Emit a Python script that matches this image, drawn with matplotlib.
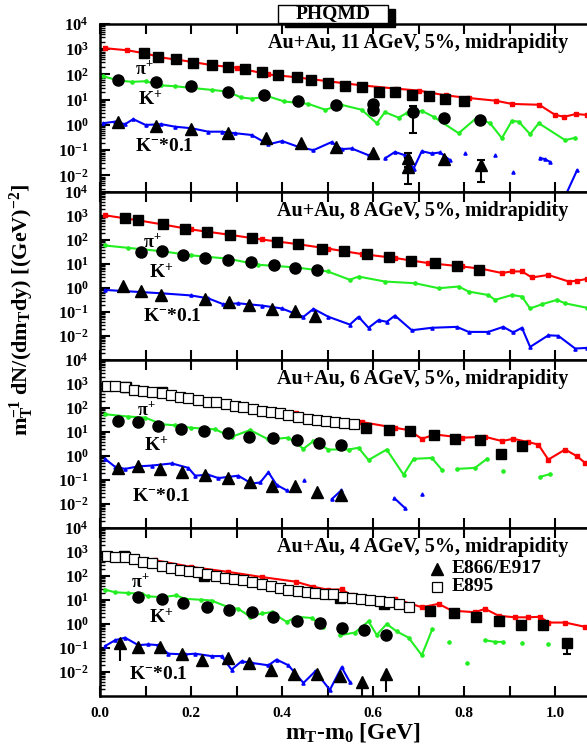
import numpy as np
import matplotlib
matplotlib.use('Agg')
from matplotlib import pyplot as plt
from matplotlib.patches import Rectangle
from matplotlib.ticker import LogLocator, NullFormatter

plt.rcParams['font.family'] = 'Liberation Serif'
plt.rcParams['font.weight'] = 'bold'
plt.rcParams['mathtext.fontset'] = 'custom'
plt.rcParams['mathtext.rm'] = 'Liberation Serif:bold'
plt.rcParams['mathtext.it'] = 'Liberation Serif:bold'
plt.rcParams['mathtext.bf'] = 'Liberation Serif:bold'
plt.rcParams['mathtext.default'] = 'rm'

nan = np.nan

# ---------------- 11 AGeV ----------------
pi_mod_x_11 = [0.01, 0.06, 0.10, 0.135, 0.20, 0.245, 0.30, 0.37, 0.43, 0.50, 0.575, 0.65, 0.70, 0.76, 0.81, 0.87, 0.905, 0.965, 1.0, 1.02, 1.045, 1.07]
pi_mod_y_11 = [1100, 910, 680, 470, 320, 235, 186, 100, 78, 54, 37, 27.5, 23, 14.8, 11.7, 9.1, 6.8, 6.3, 2.5, 2.1, 2.7, 2.5]
kp_mod_x_11 = [0.007, 0.04, 0.07, 0.10, 0.135, 0.165, 0.20, 0.245, 0.28, 0.31, 0.333, 0.37, 0.405, 0.458, 0.495, 0.53, 0.575, 0.608, 0.626, 0.656, 0.674, 0.707, 0.733, 0.788, 0.828, 0.857, 0.883, 0.905, 0.92, 0.945, 0.964, 1.022, 1.044]
kp_mod_y_11 = [85, 58, 51, 54, 37, 34, 29.5, 24.5, 21, 12.3, 11, 13.5, 8.5, 6.8, 4.0, 6.3, 4.0, 1.17, 3.2, 1.95, 2.95, 3.6, 2.1, 0.47, 1.95, 1.17, 0.30, 1.45, 1.35, 0.43, 1.17, 0.25, 0.31]
km_mod_x_11 = [0.007, 0.033, 0.055, 0.073, 0.10, 0.135, 0.165, 0.201, 0.238, 0.267, 0.297, 0.333, 0.37, 0.40, 0.436, 0.469, 0.509, 0.531, 0.553, 0.590, nan, 0.626, 0.648, 0.670, 0.689, 0.707, 0.729, 0.747, 0.769, nan, 0.802, nan, 0.868, nan, 0.908, nan, 0.967, 0.978, 0.989, nan, 1.022, 1.048]
km_mod_y_11 = [1.17, 1.35, 1.07, 1.7, 1.0, 1.07, 0.85, 0.74, 0.54, 0.54, 0.47, 0.40, 0.17, 0.23, 0.135, 0.10, 0.21, 0.11, 0.117, 0.063, nan, 0.047, 0.085, 0.063, 0.0186, 0.091, 0.074, 0.081, 0.040, nan, 0.074, nan, 0.063, nan, 0.0135, nan, 0.049, 0.044, 0.034, nan, 0.0015, 0.0158]

pi_dat_x_11 = [0.097, 0.128, 0.168, 0.205, 0.245, 0.282, 0.319, 0.355, 0.392, 0.432, 0.464, 0.502, 0.538, 0.575, 0.612, 0.648, 0.685, 0.722, 0.758, 0.799]
pi_dat_y_11 = [680, 490, 400, 295, 235, 195, 158, 123, 93, 78, 58, 47, 34, 31, 21, 21, 16, 13.5, 11, 9.1]
kp_dat_x_11 = [0.040, 0.122, 0.201, 0.281, 0.361, 0.436, 0.518, 0.599, 0.599, 0.687, 0.755, 0.835]
kp_dat_y_11 = [58, 51, 34, 21, 15, 9.1, 6.3, 6.6, 3.8, 3.2, 1.95, 1.55]
km_dat_x_11 = [0.039, 0.122, 0.201, 0.281, 0.364, 0.442, 0.518, 0.599, 0.677, 0.677, 0.755, 0.837]
km_dat_y_11 = [1.3, 0.93, 0.67, 0.47, 0.30, 0.19, 0.135, 0.078, 0.049, 0.021, 0.044, 0.027]

# error bars (x, y, lower, upper)
err_x_11 = [0.687, 0.677, 0.677, 0.837]
err_y_11 = [3.2, 0.049, 0.021, 0.027]
err_lo_11 = [2.7, 0.0, 0.0163, 0.0216]
err_hi_11 = [2.2, 0.025, 0.0, 0.013]

# ---------------- 8 AGeV ----------------
pi_mod_x_8 = [0.011, 0.084, 0.136, 0.20, 0.28, 0.355, 0.43, 0.50, 0.575, 0.648, 0.72, 0.795, 0.839, 0.883, 0.905, 0.927, 0.949, 0.985, 1.03, 1.048, 1.07]
pi_mod_y_8 = [1070, 660, 450, 275, 170, 105, 69, 44, 26, 17.8, 11, 7.9, 6.3, 4.2, 4.9, 4.9, 2.75, 3.5, 1.86, 2.0, 2.4]
kp_mod_x_8 = [0.011, 0.062, 0.136, 0.20, 0.282, 0.348, 0.43, 0.50, 0.549, 0.568, 0.626, 0.692, 0.744, 0.788, 0.81, 0.853, 0.868, 0.905, 0.927, 0.945, 0.971, 1.004, 1.022, 1.07]
kp_mod_y_8 = [59, 47, 34, 23, 16.6, 9.3, 7.2, 4.9, 2.2, 3.0, 1.86, 1.58, 0.98, 1.15, 0.71, 0.51, 0.32, 0.51, 0.44, 0.14, 0.21, 0.32, 0.23, 0.15]
km_mod_x_8 = [0.011, 0.136, 0.20, 0.238, 0.271, 0.304, 0.355, 0.399, 0.447, 0.469, 0.502, 0.549, 0.568, 0.590, 0.612, 0.630, 0.648, 0.685, 0.729, 0.784, 0.81, 0.853, 0.886, 0.908, 0.927, 0.945, 0.985, 1.007, 1.044, 1.07]
km_mod_y_8 = [0.83, 0.60, 0.49, 0.37, 0.21, 0.23, 0.186, 0.141, 0.063, 0.135, 0.063, 0.030, 0.063, 0.022, 0.046, 0.039, 0.071, 0.0174, 0.022, 0.024, 0.0148, 0.0148, 0.024, 0.0141, 0.022, 0.0035, 0.0107, 0.0102, 0.0030, 0.0032]

pi_dat_x_8 = [0.055, 0.084, 0.139, 0.187, 0.234, 0.286, 0.333, 0.388, 0.436, 0.487, 0.535, 0.586, 0.634, 0.684, 0.735, 0.784, 0.832]
pi_dat_y_8 = [850, 660, 450, 300, 220, 158, 123, 83, 65, 44, 34, 26, 19, 12.9, 11, 7.9, 5.8]
kp_dat_x_8 = [0.090, 0.136, 0.183, 0.231, 0.282, 0.332, 0.383, 0.429, 0.476]
kp_dat_y_8 = [31, 34, 24.5, 17.8, 15, 11.7, 9.3, 6.8, 5.8]
km_dat_x_8 = [0.051, 0.090, 0.134, 0.231, 0.284, 0.328, 0.379, 0.429, 0.473]
km_dat_y_8 = [1.26, 0.76, 0.51, 0.35, 0.27, 0.19, 0.135, 0.11, 0.068]

# ---------------- 6 AGeV ----------------
pi_mod_x_6 = [0.011, 0.062, 0.136, 0.20, 0.282, 0.355, 0.43, 0.50, 0.575, 0.648, 0.678, 0.707, 0.736, 0.795, 0.846, 0.883, 0.908, 0.941, 0.963, 0.985, 1.022, 1.048, 1.066]
pi_mod_y_6 = [1000, 800, 450, 275, 158, 95, 60, 36, 26, 15, 12, 5.2, 7.9, 5.8, 6.3, 4.2, 5.2, 3.8, 3.0, 0.71, 1.86, 0.98, 0.51]
kp_mod_x_6 = [0.011, 0.062, 0.099, 0.136, 0.165, 0.20, 0.253, 0.289, 0.33, 0.37, 0.414, 0.447, 0.469, 0.502, 0.546, 0.568, 0.59, 0.63, 0.667, 0.689, 0.729, 0.751, nan, 0.784, 0.824, 0.85, nan, 0.886, nan, 0.967, 0.989]
kp_mod_y_6 = [55, 44, 40, 21, 19, 15, 12.9, 6.3, 12, 4.9, 5.8, 2.0, 4.2, 1.86, 1.86, 2.2, 0.68, 1.86, 0.166, 0.76, 0.83, 0.27, nan, 0.29, 0.32, 0.76, nan, 0.23, nan, 0.135, 0.178]
km_mod_x_6 = [0.011, 0.033, 0.055, 0.084, 0.114, 0.158, 0.194, 0.209, 0.238, 0.26, 0.282, 0.304, 0.333, 0.352, 0.37, 0.388, 0.41, nan, 0.449, nan, 0.509, 0.53, nan, 0.647, 0.670, nan, 0.707]
km_mod_y_6 = [0.76, 0.355, 0.29, 0.37, 0.40, 0.49, 0.32, 0.151, 0.166, 0.12, 0.135, 0.151, 0.071, 0.079, 0.21, 0.063, 0.037, nan, 0.102, nan, 0.0158, 0.037, nan, 0.0174, 0.0068, nan, 0.027]

pi_open_x_6 = [0.015, 0.034, 0.055, 0.075, 0.095, 0.115, 0.136, 0.156, 0.176, 0.194, 0.215, 0.237, 0.254, 0.276, 0.297, 0.315, 0.337, 0.355, 0.376, 0.396, 0.414, 0.436, 0.456, 0.476, 0.496, 0.516, 0.537, 0.557]
pi_open_y_6 = [850, 790, 720, 575, 490, 450, 415, 345, 300, 250, 220, 182, 170, 145, 123, 105, 89, 76, 69, 60, 50, 44, 36, 32, 29, 26, 23, 21]
pi_dat_x_6 = [0.057, 0.136, 0.584, 0.634, 0.681, 0.733, 0.779, 0.835, 0.881, 0.928]
pi_dat_y_6 = [720, 445, 15, 12, 11, 7.2, 4.9, 4.6, 1.26, 2.6]
kp_dat_x_6 = [0.040, 0.084, 0.128, 0.179, 0.229, 0.282, 0.328, 0.381, 0.432, 0.481, 0.530]
kp_dat_y_6 = [29, 26, 17.8, 13.8, 11, 8.7, 6.3, 5.8, 4.6, 3.5, 2.75]
km_dat_x_6 = [0.039, 0.083, 0.132, 0.181, 0.231, 0.281, 0.330, 0.377, 0.429, 0.476, 0.530]
km_dat_y_6 = [0.32, 0.37, 0.29, 0.21, 0.166, 0.12, 0.079, 0.057, 0.057, 0.033, 0.024]

# ---------------- 4 AGeV ----------------
pi_mod_x_4 = [0.011, 0.062, 0.121, 0.20, 0.282, 0.355, 0.43, 0.468, 0.50, 0.531, 0.553, 0.619, 0.648, 0.707, 0.744, 0.773, 0.824, 0.846, 0.876, 0.912, 0.941, 0.967, 0.985, 1.022, 1.066]
pi_mod_y_4 = [630, 540, 455, 240, 148, 91, 58, 36, 27, 27.5, 15.5, 11.2, 11.2, 5.0, 6.9, 3.6, 3.1, 4.3, 2.2, 1.9, 1.9, 2.0, 1.15, 1.15, 0.76]
kp_mod_x_4 = [0.011, 0.033, 0.062, 0.092, 0.106, 0.136, 0.168, 0.187, 0.223, 0.245, 0.282, 0.304, 0.33, 0.355, 0.377, 0.41, 0.432, 0.465, 0.491, nan, 0.527, 0.56, 0.59, 0.608, 0.63, 0.652, 0.678, 0.707, 0.73, nan, 0.766, nan, 0.806, nan, 0.846, 0.868, 0.886, nan, 0.927, nan, 0.985]
kp_mod_y_4 = [27, 21, 19.5, 18.2, 14.1, 13.2, 15.5, 11.2, 10.2, 9.5, 5.0, 4.3, 2.0, 2.75, 3.1, 1.23, 2.0, 1.78, 0.76, nan, 0.34, 0.44, 1.29, 0.35, 1.0, 0.49, 0.27, 0.050, 0.60, nan, 0.18, nan, 0.024, nan, 0.21, 0.18, 0.178, nan, 0.166, nan, 0.141]
km_mod_x_4 = [0.011, 0.033, 0.055, 0.084, 0.106, 0.128, 0.150, 0.187, 0.209, 0.245, 0.267, 0.289, 0.311, 0.333, 0.37, 0.388, 0.414, 0.447, 0.473, 0.505, 0.531, 0.549]
km_mod_y_4 = [0.12, 0.21, 0.27, 0.132, 0.141, 0.132, 0.058, 0.054, 0.058, 0.046, 0.046, 0.0126, 0.028, 0.024, 0.019, 0.033, 0.019, 0.0035, 0.0107, 0.0018, 0.0158, 0.0038]

pi_open_x_4 = [0.015, 0.034, 0.055, 0.075, 0.095, 0.115, 0.136, 0.156, 0.176, 0.196, 0.215, 0.234, 0.254, 0.275, 0.295, 0.315, 0.335, 0.355, 0.376, 0.396, 0.414, 0.434, 0.454, 0.473, 0.495, 0.513, 0.533, 0.553, 0.573, 0.593, 0.615, 0.634, 0.656, 0.678]
pi_open_y_4 = [680, 630, 600, 490, 390, 355, 257, 224, 174, 162, 148, 117, 98, 85, 78, 71, 56, 45, 37, 32, 27, 23, 21, 19.5, 18.2, 17, 13.2, 12.3, 11.2, 10.2, 8.9, 8.1, 6.5, 5.2]
pi_dat_x_4 = [0.052, 0.228, 0.528, 0.623, 0.725, 0.777, 0.826, 0.877, 0.925, 0.974, 1.026]
pi_dat_y_4 = [690, 100, 12.6, 7.1, 3.6, 2.75, 2.0, 1.35, 0.93, 0.93, 0.166]
kp_dat_x_4 = [0.083, 0.136, 0.183, 0.234, 0.284, 0.333, 0.381, 0.432, 0.484, 0.531, 0.579, 0.628]
kp_dat_y_4 = [13.2, 11.2, 7.4, 5.0, 3.8, 3.1, 1.9, 1.35, 1.15, 0.71, 0.55, 0.35]
km_dat_x_4 = [0.044, 0.084, 0.132, 0.181, 0.225, 0.281, 0.328, 0.376, 0.427, 0.476, 0.527, 0.575, 0.628]
km_dat_y_4 = [0.166, 0.11, 0.11, 0.058, 0.033, 0.039, 0.024, 0.0126, 0.0083, 0.0083, 0.0066, 0.0038, 0.0083]

err_x_4 = [1.026, 0.044, 0.575, 0.628]
err_y_4 = [0.166, 0.166, 0.0038, 0.0083]
err_lo_4 = [0.112, 0.136, 0.0029, 0.0068]
err_hi_4 = [0.064, 0.0, 0.0, 0.0]
err_cap_4 = [3, 0, 0, 0]

titles = ['Au+Au, 11 AGeV, 5%, midrapidity', 'Au+Au, 8 AGeV, 5%, midrapidity',
          'Au+Au, 6 AGeV, 5%, midrapidity', 'Au+Au, 4 AGeV, 5%, midrapidity']

yticks = [1e-2, 1e-1, 1e0, 1e1, 1e2, 1e3, 1e4]
ytick_labels = ['10$^{-2}$', '10$^{-1}$', '10$^{0}$', '10$^{1}$', '10$^{2}$', '10$^{3}$', '10$^{4}$']
xticks = [0.0, 0.1, 0.2, 0.3, 0.4, 0.5, 0.6, 0.7, 0.8, 0.9, 1.0]
xtick_labels = ['0.0', '', '0.2', '', '0.4', '', '0.6', '', '0.8', '', '1.0']

RED = '#ff0000'
GREEN = '#22ee22'
BLUE = '#0000ff'

panels = [
    dict(title=titles[0], ymin=2.2e-3,
         mod=[(pi_mod_x_11, pi_mod_y_11), (kp_mod_x_11, kp_mod_y_11), (km_mod_x_11, km_mod_y_11)],
         sq=(pi_dat_x_11, pi_dat_y_11), op=None,
         ci=(kp_dat_x_11, kp_dat_y_11), tr=(km_dat_x_11, km_dat_y_11),
         err=(err_x_11, err_y_11, err_lo_11, err_hi_11, [3, 3, 3, 3]),
         lab=[(0.072, 0.73), (0.078, 0.55), (0.072, 0.27)]),
    dict(title=titles[1], ymin=1e-3,
         mod=[(pi_mod_x_8, pi_mod_y_8), (kp_mod_x_8, kp_mod_y_8), (km_mod_x_8, km_mod_y_8)],
         sq=(pi_dat_x_8, pi_dat_y_8), op=None,
         ci=(kp_dat_x_8, kp_dat_y_8), tr=(km_dat_x_8, km_dat_y_8),
         err=None,
         lab=[(0.088, 0.70), (0.100, 0.52), (0.088, 0.26)]),
    dict(title=titles[2], ymin=1e-3,
         mod=[(pi_mod_x_6, pi_mod_y_6), (kp_mod_x_6, kp_mod_y_6), (km_mod_x_6, km_mod_y_6)],
         sq=(pi_dat_x_6, pi_dat_y_6), op=(pi_open_x_6, pi_open_y_6),
         ci=(kp_dat_x_6, kp_dat_y_6), tr=(km_dat_x_6, km_dat_y_6),
         err=None,
         lab=[(0.075, 0.70), (0.090, 0.49), (0.066, 0.19)]),
    dict(title=titles[3], ymin=1e-3,
         mod=[(pi_mod_x_4, pi_mod_y_4), (kp_mod_x_4, kp_mod_y_4), (km_mod_x_4, km_mod_y_4)],
         sq=(pi_dat_x_4, pi_dat_y_4), op=(pi_open_x_4, pi_open_y_4),
         ci=(kp_dat_x_4, kp_dat_y_4), tr=(km_dat_x_4, km_dat_y_4),
         err=(err_x_4, err_y_4, err_lo_4, err_hi_4, err_cap_4),
         lab=[(0.064, 0.68), (0.100, 0.47), (0.060, 0.13)]),
]

fig = plt.figure(figsize=(5.87, 7.5), dpi=100)

left = 100 / 587
bottom = 1 - 696 / 750
ph = 168 / 750

axes = []
for i, p in enumerate(panels):
    ax = fig.add_axes([left, bottom + (3 - i) * ph, 1 - left, ph])
    axes.append(ax)
    ax.set_yscale('log')

    # modele PHQMD
    for (mx, my), col, mk in zip(p['mod'], [RED, GREEN, BLUE], ['s', 'o', '^']):
        ax.plot(mx, my, color=col, lw=1.5, marker=mk, ms=2.3, mec=col, mfc=col, zorder=2)

    if p['err'] is not None:
        ex, ey, elo, ehi, ecap = p['err']
        for j in range(len(ex)):
            ax.errorbar([ex[j]], [ey[j]], yerr=[[elo[j]], [ehi[j]]], fmt='none',
                        ecolor='k', elinewidth=1.5, capsize=ecap[j], capthick=1.5, zorder=3)

    # donnees experimentales
    ax.plot(p['sq'][0], p['sq'][1], 's', color='k', ms=7, zorder=4, ls='none')
    if p['op'] is not None:
        ax.plot(p['op'][0], p['op'][1], 's', mfc='white', mec='k', mew=0.9, ms=6.5, zorder=5, ls='none')
    ax.plot(p['ci'][0], p['ci'][1], 'o', color='k', ms=8, zorder=4, ls='none')
    ax.plot(p['tr'][0], p['tr'][1], '^', color='k', ms=8, zorder=4, ls='none')

    ax.set_xlim(0, 1.07)
    ax.set_ylim(p['ymin'], 1e4)
    ax.set_yticks(yticks)
    ax.set_yticklabels(ytick_labels, fontsize=12)
    ax.yaxis.set_minor_locator(LogLocator(base=10, subs=np.arange(2, 10), numticks=30))
    ax.yaxis.set_minor_formatter(NullFormatter())
    ax.set_xticks(xticks)
    if i == 3:
        ax.set_xticklabels(xtick_labels, fontsize=11, fontweight='bold')
    else:
        ax.set_xticklabels([])

    ax.tick_params(axis='both', which='major', direction='in', length=7, width=1.5,
                   top=True, right=False, pad=8)
    ax.tick_params(axis='y', which='minor', direction='in', length=3.5, width=1.0, right=False)
    for s in ['left', 'top', 'bottom']:
        ax.spines[s].set_linewidth(1.8)
    ax.spines['right'].set_visible(False)

    ax.text(0.962, 0.885, p['title'], transform=ax.transAxes, ha='right', va='center',
            fontsize=14.5, fontweight='bold')
    (lx1, ly1), (lx2, ly2), (lx3, ly3) = p['lab']
    ax.text(lx1, ly1, r'$\pi^{+}$', transform=ax.transAxes, ha='left', va='center', fontsize=13)
    ax.text(lx2, ly2, r'K$^{+}$', transform=ax.transAxes, ha='left', va='center', fontsize=14, fontweight='bold')
    ax.text(lx3, ly3, r'K$^{-}$*0.1', transform=ax.transAxes, ha='left', va='center', fontsize=14, fontweight='bold')

# legende dans le dernier panneau
ax4 = axes[3]
ax4.plot([0.692], [0.756], '^', color='k', ms=8, transform=ax4.transAxes, clip_on=False)
ax4.text(0.722, 0.756, 'E866/E917', transform=ax4.transAxes, ha='left', va='center', fontsize=14, fontweight='bold')
ax4.plot([0.692], [0.649], 's', mfc='white', mec='k', mew=0.9, ms=6.5, transform=ax4.transAxes, clip_on=False)
ax4.text(0.722, 0.649, 'E895', transform=ax4.transAxes, ha='left', va='center', fontsize=14, fontweight='bold')

# cadre PHQMD avec ombre
W, H = 587, 750
fig.patches.append(Rectangle((285 / W, 1 - 27 / H), 110 / W, 18 / H, transform=fig.transFigure,
                             facecolor='k', edgecolor='k', zorder=5))
fig.patches.append(Rectangle((278 / W, 1 - 23 / H), 110 / W, 18 / H, transform=fig.transFigure,
                             facecolor='white', edgecolor='k', lw=1.0, zorder=6))
fig.text(333 / W, 1 - 14 / H, 'PHQMD', ha='center', va='center', fontsize=14, fontweight='bold', zorder=7)

# titres des axes
fig.text(22 / W, 1 - 310 / H, r'm$_{T}^{-1}$ dN/(dm$_{T}$dy) [(GeV)$^{-2}$]', rotation=90,
         ha='center', va='center', fontsize=16, fontweight='bold')
fig.text(353 / W, 1 - 733 / H, r'm$_{T}$-m$_{0}$ [GeV]', ha='center', va='center',
         fontsize=17, fontweight='bold')

fig.savefig('out.png', dpi=100)
